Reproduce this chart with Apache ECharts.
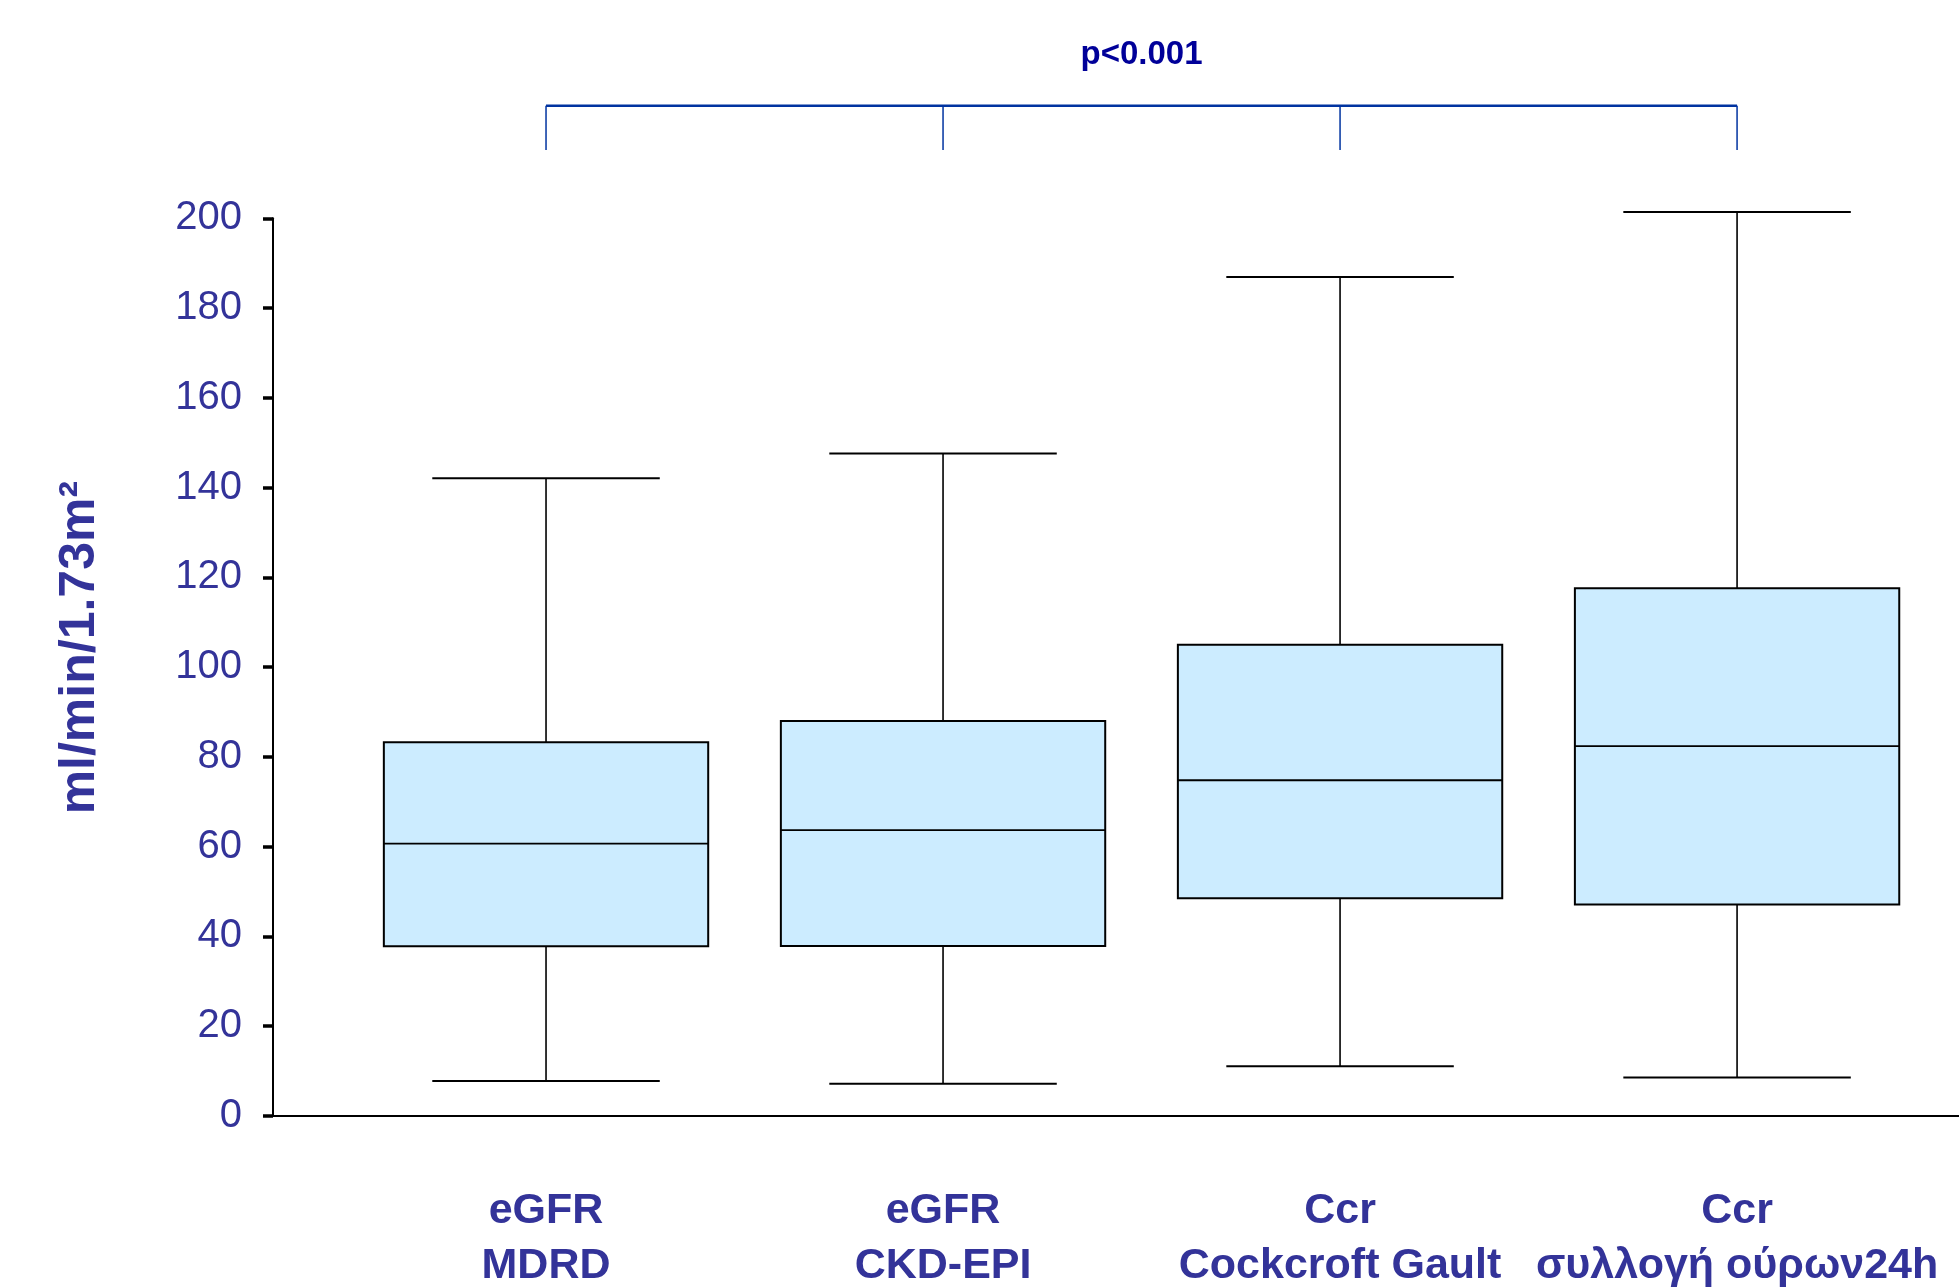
<!DOCTYPE html>
<html>
<head>
<meta charset="utf-8">
<script src="https://cdn.jsdelivr.net/npm/echarts@6/dist/echarts.min.js"></script>
<style>
html,body{margin:0;padding:0;background:#fff;}
#chart{width:1959px;height:1288px;}
</style>
</head>
<body>
<div id="chart"></div>
<script>
// ---- data ----
const categories = ['eGFR\nMDRD', 'eGFR\nCKD-EPI', 'Ccr\nCockcroft Gault', 'Ccr\nσυλλογή ούρων24h'];
const positions = [1, 2, 3, 4];
const mins    = [7.8, 7.2, 11.1, 8.6];
const q1s     = [37.8, 37.9, 48.5, 47.1];
const medians = [60.7, 63.7, 74.8, 82.4];
const q3s     = [83.25, 88.0, 105.0, 117.6];
const maxs    = [142.1, 147.6, 186.9, 201.4];
const yTicks  = [0, 20, 40, 60, 80, 100, 120, 140, 160, 180, 200];
const yTitle  = 'ml/min/1.73m²';
const pText   = 'p<0.001';

const boxData = positions.map((p, i) => [p, mins[i], q1s[i], medians[i], q3s[i], maxs[i], i]);

const FONT = '"Liberation Sans", Arial, sans-serif';
const BOX_W = 0.817, CAP_W = 0.573;

const chart = echarts.init(document.getElementById('chart'), null, {renderer: 'canvas'});

const option = {
  backgroundColor: '#ffffff',
  animation: false,
  grid: {left: 273, right: 0, top: 218.3, bottom: 172, containLabel: false},
  xAxis: {
    type: 'value', min: 0.3123, max: 4.559,
    axisLine: {show: true, lineStyle: {color: '#000', width: 2}},
    axisTick: {show: false}, axisLabel: {show: false}, splitLine: {show: false}
  },
  yAxis: {
    type: 'value', min: yTicks[0], max: yTicks[yTicks.length - 1], interval: 20,
    axisLine: {show: true, lineStyle: {color: '#000', width: 2}},
    axisTick: {show: true, length: 10, lineStyle: {color: '#000', width: 3.5}},
    axisLabel: {color: '#333399', fontSize: 40, fontFamily: FONT, margin: 31},
    splitLine: {show: false},
    name: yTitle, nameLocation: 'middle', nameRotate: 90, nameGap: 168,
    nameTextStyle: {color: '#333399', fontSize: 50, fontWeight: 'bold', fontFamily: FONT, padding: [0, 0, 0, 39]}
  },
  series: [
    {
      type: 'custom',
      data: boxData,
      clip: false,
      renderItem: function (params, api) {
        const x = api.value(0);
        const pMin = api.coord([x, api.value(1)]);
        const pQ1 = api.coord([x, api.value(2)]);
        const pMed = api.coord([x, api.value(3)]);
        const pQ3 = api.coord([x, api.value(4)]);
        const pMax = api.coord([x, api.value(5)]);
        const p0 = api.coord([x, 0]);
        const bw = api.size([BOX_W, 0])[0];
        const cw = api.size([CAP_W, 0])[0];
        const cx = pMed[0];
        const st = {stroke: '#000', lineWidth: 1.6, fill: null};
        const idx = api.value(6);
        return {
          type: 'group',
          children: [
            {type: 'line', shape: {x1: cx, y1: pQ3[1], x2: cx, y2: pMax[1]}, style: st},
            {type: 'line', shape: {x1: cx, y1: pQ1[1], x2: cx, y2: pMin[1]}, style: st},
            {type: 'line', shape: {x1: cx - cw / 2, y1: pMax[1], x2: cx + cw / 2, y2: pMax[1]}, style: {stroke: '#000', lineWidth: 2}},
            {type: 'line', shape: {x1: cx - cw / 2, y1: pMin[1], x2: cx + cw / 2, y2: pMin[1]}, style: {stroke: '#000', lineWidth: 2}},
            {type: 'rect', shape: {x: cx - bw / 2, y: pQ3[1], width: bw, height: pQ1[1] - pQ3[1]},
              style: {fill: '#CCECFF', stroke: '#000', lineWidth: 2}},
            {type: 'line', shape: {x1: cx - bw / 2, y1: pMed[1], x2: cx + bw / 2, y2: pMed[1]}, style: {stroke: '#000', lineWidth: 1.8}},
            {type: 'text', x: cx, y: p0[1] + 123,
              style: {text: categories[idx], fill: '#333399', fontSize: 43, fontWeight: 'bold', fontFamily: FONT,
                align: 'center', verticalAlign: 'middle', lineHeight: 55}}
          ]
        };
      }
    },
    {
      type: 'custom',
      data: [[positions[0], positions[positions.length - 1]]],
      clip: false,
      renderItem: function (params, api) {
        const a = api.value(0), b = api.value(1);
        const topY = api.coord([a, 225.1])[1];
        const botY = api.coord([a, 215.2])[1];
        const children = [];
        const xa = api.coord([a, 0])[0], xb = api.coord([b, 0])[0];
        children.push({type: 'line', shape: {x1: xa, y1: topY, x2: xb, y2: topY}, style: {stroke: '#0033A0', lineWidth: 2.5}});
        positions.forEach(p => {
          const px = api.coord([p, 0])[0];
          children.push({type: 'line', shape: {x1: px, y1: topY, x2: px, y2: botY}, style: {stroke: '#0033A0', lineWidth: 1.5}});
        });
        const t = api.coord([(a + b) / 2, 236.5]);
        children.push({type: 'text', x: t[0], y: t[1],
          style: {text: pText, fill: '#000099', fontSize: 33, fontWeight: 'bold', fontFamily: FONT, align: 'center', verticalAlign: 'middle'}});
        return {type: 'group', children};
      }
    }
  ]
};
chart.setOption(option);
</script>
</body>
</html>
